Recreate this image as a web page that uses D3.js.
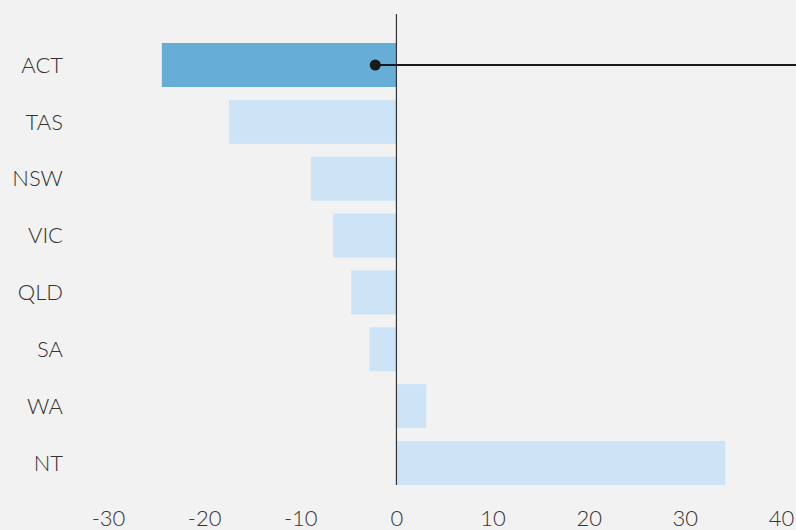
<!DOCTYPE html>
<html>
<head>
<meta charset="utf-8">
<script src="https://cdn.jsdelivr.net/npm/d3@7"></script>
<style>
  body { margin: 0; background: #f2f2f2; }
  text { font-family: Lato, "Open Sans", sans-serif; font-weight: 300; fill: #333; }
</style>
</head>
<body>
<div id="chart"></div>
<script>
// Daten
const states = ["ACT", "TAS", "NSW", "VIC", "QLD", "SA", "WA", "NT"]
const values = [-24.4, -17.4, -8.9, -6.6, -4.7, -2.8, 3.1, 34.2]
const highlight = ["ACT"]
const xTicks = [-30, -20, -10, 0, 10, 20, 30, 40]
const markerValue = -2.2

const width = 796
const height = 530

let svg = d3.select("#chart")
    .append("svg")
    .attr("width", width)
    .attr("height", height)

svg.append("rect")
    .attr("width", width)
    .attr("height", height)
    .attr("fill", "#f2f2f2")

let x = d3.scaleLinear().domain([-30, 40]).range([108, 781])
let y = d3.scaleBand().domain(states).range([43, 485]).paddingInner(0.226).paddingOuter(0)

let rows = states.map(function(s, i) { return {name: s, value: values[i]} })

// Balken
svg.selectAll(".bar")
    .data(rows)
    .enter().append("rect")
    .attr("class", "bar")
    .attr("x", function(d) { return x(Math.min(0, d.value)) })
    .attr("width", function(d) { return Math.abs(x(d.value) - x(0)) })
    .attr("y", function(d) { return y(d.name) })
    .attr("height", y.bandwidth())
    .attr("fill", function(d) { return highlight.includes(d.name) ? "#66aed6" : "#cde3f6" })

// Nulllinie
svg.append("line")
    .attr("x1", x(0)).attr("x2", x(0))
    .attr("y1", 14).attr("y2", y.range()[1])
    .attr("stroke", "#333")
    .attr("stroke-width", 1.2)

// Kategorien
let yAxis = svg.append("g")
    .attr("transform", "translate(63,0)")
    .call(d3.axisLeft(y).tickSize(0).tickPadding(0))
yAxis.select(".domain").remove()
yAxis.selectAll("text")
    .attr("font-size", 22)
    .attr("font-family", null)
    .attr("fill", "#333")
    .attr("dy", "0.35em")

// x-Achse (Bindestrich statt Minuszeichen wie im Original)
let xAxis = svg.append("g")
    .attr("transform", "translate(0,526)")
    .call(d3.axisBottom(x).tickValues(xTicks).tickSize(0).tickPadding(0).tickFormat(function(d) { return String(d) }))
xAxis.select(".domain").remove()
xAxis.selectAll("text")
    .attr("font-size", 22)
    .attr("font-family", null)
    .attr("fill", "#333")
    .attr("dy", 0)

// Markierung
let cy = y("ACT") + y.bandwidth() / 2
svg.append("line")
    .attr("x1", x(markerValue)).attr("x2", width)
    .attr("y1", cy).attr("y2", cy)
    .attr("stroke", "#1a1a1a")
    .attr("stroke-width", 2)
svg.append("circle")
    .attr("cx", x(markerValue))
    .attr("cy", cy)
    .attr("r", 5.5)
    .attr("fill", "#1a1a1a")
</script>
</body>
</html>
